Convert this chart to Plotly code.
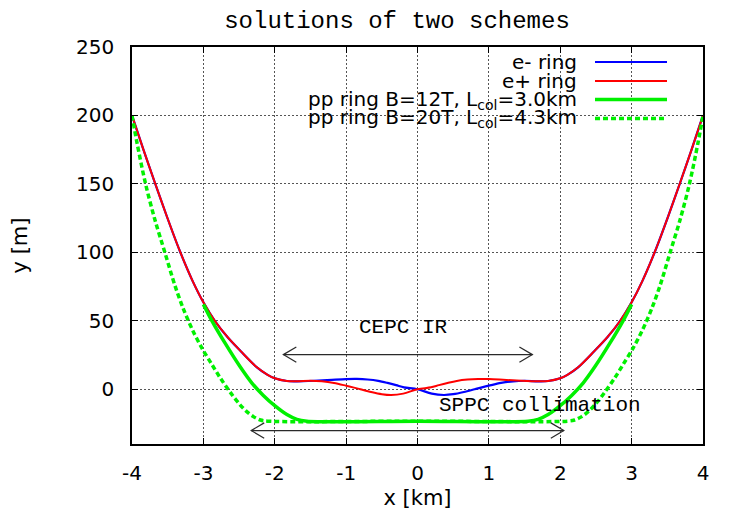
import plotly.graph_objects as go

# ---------------- data ----------------
e_minus_x = [-4.0, -3.84, -3.68, -3.51, -3.33, -3.15, -3.0, -2.84, -2.66, -2.48, -2.25, -2.1, -2.0,
             -1.83, -1.69, -1.45, -1.2, -1.0, -0.85, -0.7, -0.55, -0.42, -0.3, -0.19, 0.0,
             0.2, 0.37, 0.5, 0.65, 0.8, 0.89, 1.0, 1.17, 1.34, 1.5, 1.69, 1.83,
             2.0, 2.1, 2.25, 2.48, 2.66, 2.84, 3.0, 3.15, 3.33, 3.51, 3.68, 3.84, 4.0]
e_minus_y = [200, 175, 151, 126, 101, 79, 63.5, 50, 38, 28, 16, 10.5, 8.0,
             6.0, 5.8, 6.2, 6.9, 7.4, 7.5, 7.1, 6.1, 4.6, 3.0, 1.4, 0.0,
             -3.2, -4.2, -3.6, -2.0, 0.0, 1.2, 2.6, 4.6, 5.8, 6.2, 5.8, 6.0,
             8.0, 10.5, 16, 28, 38, 50, 63.5, 79, 101, 126, 151, 175, 200]

e_plus_x = [-4.0, -3.84, -3.68, -3.51, -3.33, -3.15, -3.0, -2.84, -2.66, -2.48, -2.25, -2.1, -2.0,
            -1.83, -1.69, -1.5, -1.34, -1.17, -1.0, -0.89, -0.8, -0.65, -0.5, -0.37, -0.2, 0.0,
            0.19, 0.3, 0.42, 0.55, 0.7, 0.85, 1.0, 1.2, 1.45, 1.69, 1.83,
            2.0, 2.1, 2.25, 2.48, 2.66, 2.84, 3.0, 3.15, 3.33, 3.51, 3.68, 3.84, 4.0]
e_plus_y = [200, 175, 151, 126, 101, 79, 63.5, 50, 38, 28, 16, 10.5, 8.0,
            6.0, 5.8, 6.2, 5.8, 4.6, 2.6, 1.2, 0.0, -2.0, -3.6, -4.2, -3.2, 0.0,
            1.4, 3.0, 4.6, 6.1, 7.1, 7.5, 7.4, 6.9, 6.2, 5.8, 6.0,
            8.0, 10.5, 16, 28, 38, 50, 63.5, 79, 101, 126, 151, 175, 200]

pp12_x = [-3.0, -2.88, -2.7, -2.48, -2.32, -2.16, -2.0, -1.83, -1.69, -1.55, 0.0,
          1.55, 1.69, 1.83, 2.0, 2.16, 2.32, 2.48, 2.7, 2.88, 3.0]
pp12_y = [62, 50, 34, 16, 4.5, -4.5, -12, -18.5, -22, -23.3, -23.3,
          -23.3, -22, -18.5, -12, -4.5, 4.5, 16, 34, 50, 62]

pp20_x = [-4.0, -3.93, -3.81, -3.68, -3.54, -3.4, -3.29, -3.15, -3.02, -2.88, -2.76, -2.62, -2.5,
          -2.4, -2.3, -2.2, -2.1, 0.0, 2.1, 2.2, 2.3, 2.4, 2.5, 2.62, 2.76, 2.88, 3.02, 3.15, 3.29,
          3.4, 3.54, 3.68, 3.81, 3.93, 4.0]
pp20_y = [200, 180, 150, 124, 100, 76, 60, 43, 30, 18, 8, -2.5, -10.5,
          -16, -20, -22.5, -23.3, -23.3, -23.3, -22.5, -20, -16, -10.5, -2.5, 8, 18, 30, 43, 60,
          76, 100, 124, 150, 180, 200]

series_names = ["e- ring", "e+ ring",
                "pp ring B=12T, L<sub>col</sub>=3.0km",
                "pp ring B=20T, L<sub>col</sub>=4.3km"]
x_ticks = [-4, -3, -2, -1, 0, 1, 2, 3, 4]
x_tick_labels = ["-4", "-3", "-2", "-1", "0", "1", "2", "3", "4"]
y_ticks = [0, 50, 100, 150, 200, 250]
y_tick_labels = ["0", "50", "100", "150", "200", "250"]

cepc_arrow_x = [-1.88, 1.61]
cepc_arrow_y = 25.3
cepc_label = "CEPC IR"
cepc_label_pos = [-0.19, 45]
sppc_arrow_x = [-2.33, 2.05]
sppc_arrow_y = -30.2
sppc_label = "SPPC collimation"
sppc_label_pos = [1.72, -11.7]

# ---------------- layout geometry (window pixels) ----------------
OFF = 8                      # page body margin
WIN_W, WIN_H = 731, 511
W, H = WIN_W - OFF, WIN_H - OFF
PL, PR, PT, PB = 132, 703, 47, 444          # plot area in window pixels
ML, MR, MT, MB = PL - OFF, WIN_W - PR, PT - OFF, WIN_H - PB
PW, PH = PR - PL, PB - PT
X_RANGE = [-4, 4]
Y_RANGE = [-40, 250]


def px_x(xw):  # window x -> paper
    return (xw - PL) / PW


def px_y(yw):  # window y -> paper
    return (PB - yw) / PH


BLUE, RED, GREEN = "#0000ff", "#ff0000", "#00f000"
SANS = "DejaVu Sans"
MONO = "Liberation Mono"
SPL = dict(shape="spline", smoothing=0.9)

fig = go.Figure()
fig.add_trace(go.Scatter(x=e_minus_x, y=e_minus_y, mode="lines", name=series_names[0],
                         line=dict(color=BLUE, width=2.2, **SPL)))
fig.add_trace(go.Scatter(x=e_plus_x, y=e_plus_y, mode="lines", name=series_names[1],
                         line=dict(color=RED, width=2, **SPL)))
fig.add_trace(go.Scatter(x=pp12_x, y=pp12_y, mode="lines", name=series_names[2],
                         line=dict(color=GREEN, width=3.5, **SPL)))
fig.add_trace(go.Scatter(x=pp20_x, y=pp20_y, mode="lines", name=series_names[3],
                         line=dict(color=GREEN, width=3.5, dash="5px,3px", **SPL)))

kx = (X_RANGE[1] - X_RANGE[0]) / PW
ky = (Y_RANGE[1] - Y_RANGE[0]) / PH
head_l, head_w = 13 * kx, 7.7 * ky

shapes = []
# white key box blanking the grid (like gnuplot)
shapes.append(dict(type="rect", xref="paper", yref="paper", x0=px_x(198), x1=px_x(681),
                   y0=px_y(130), y1=1.0, fillcolor="white", line=dict(width=0), layer="between"))


def add_arrow(xs, y):
    col = "#2a2a2a"
    shapes.append(dict(type="line", x0=xs[0], x1=xs[1], y0=y, y1=y, line=dict(color=col, width=1.2)))
    for tip, sgn in ((xs[0], 1), (xs[1], -1)):
        shapes.append(dict(type="path",
                           path=f"M {tip + sgn*head_l},{y + head_w} L {tip},{y} L {tip + sgn*head_l},{y - head_w}",
                           line=dict(color=col, width=1.2)))


add_arrow(cepc_arrow_x, cepc_arrow_y)
add_arrow(sppc_arrow_x, sppc_arrow_y)

annotations = []
annotations.append(dict(x=cepc_label_pos[0], y=cepc_label_pos[1], text=cepc_label, showarrow=False,
                        font=dict(family=MONO, size=21, color="black")))
annotations.append(dict(x=sppc_label_pos[0], y=sppc_label_pos[1], text=sppc_label, showarrow=False,
                        font=dict(family=MONO, size=21, color="black")))

# gnuplot-style key: text right-aligned, sample on the right
key_rows_px = [62, 81, 99.5, 118.5]
key_styles = [dict(color=BLUE, width=2), dict(color=RED, width=2),
              dict(color=GREEN, width=3.5), dict(color=GREEN, width=3.5, dash="5px,3px")]
for name, ypx, st in zip(series_names, key_rows_px, key_styles):
    yp = px_y(ypx)
    annotations.append(dict(xref="paper", yref="paper", x=px_x(579), y=yp, xanchor="right",
                            yanchor="middle", text=name, showarrow=False,
                            font=dict(family=SANS, size=20, color="black")))
    shapes.append(dict(type="line", xref="paper", yref="paper", x0=px_x(595), x1=px_x(667),
                       y0=yp, y1=yp, line=st))

grid_style = dict(showgrid=True, gridcolor="#555555", gridwidth=1, griddash="2px,2px")
axis_common = dict(showline=True, linecolor="black", linewidth=1.5, mirror="ticks", ticks="inside",
                   ticklen=6, tickcolor="black", zeroline=False, automargin=False,
                   tickfont=dict(family=SANS, size=20, color="black"), **grid_style)

fig.update_layout(
    width=W, height=H, margin=dict(l=ML, r=MR, t=MT, b=MB, autoexpand=False),
    paper_bgcolor="white", plot_bgcolor="white", showlegend=False,
    title=dict(text="solutions of two schemes", xref="container", yref="container",
               x=(397 - OFF) / W, xanchor="center", y=1 - (20 - OFF) / H, yanchor="middle",
               font=dict(family=MONO, size=24, color="black")),
    xaxis=dict(range=X_RANGE, tickvals=x_ticks, ticktext=x_tick_labels, ticklabelstandoff=10,
               title=dict(text="x [km]", font=dict(family=SANS, size=21, color="black"), standoff=7),
               **axis_common),
    yaxis=dict(range=Y_RANGE, tickvals=y_ticks, ticktext=y_tick_labels, ticklabelstandoff=12,
               title=dict(text="y [m]", font=dict(family=SANS, size=21, color="black"), standoff=55),
               **axis_common),
    shapes=shapes, annotations=annotations,
)

fig.write_html("out.html")
